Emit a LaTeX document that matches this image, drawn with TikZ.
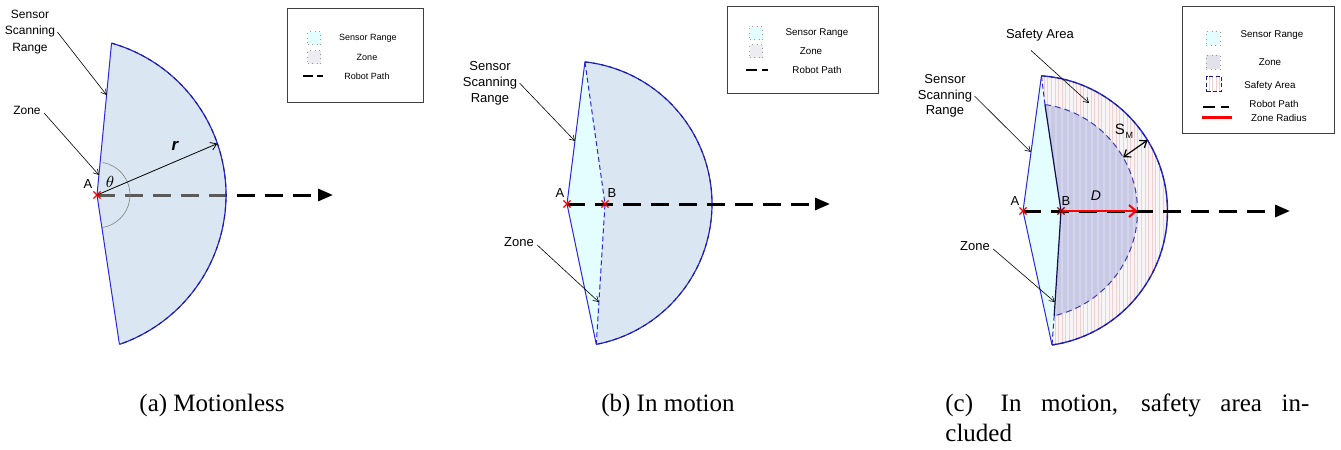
\documentclass[tikz,border=0pt]{standalone}
\usepackage{fontspec}
\setmainfont{Liberation Serif}
\setsansfont{Liberation Sans}
\usetikzlibrary{arrows.meta,patterns.meta,calc,shapes.misc}

\definecolor{lblue}{RGB}{218,231,242}
\definecolor{lcyan}{RGB}{228,253,254}
\definecolor{zonec}{RGB}{200,201,229}
\definecolor{zonest}{RGB}{212,213,236}
\definecolor{edgeb}{RGB}{40,40,215}
\definecolor{navy}{RGB}{25,25,130}
\definecolor{safec}{RGB}{247,245,245}
\definecolor{stripe}{RGB}{242,206,206}
\definecolor{pathgray}{RGB}{90,90,90}
\definecolor{zleg}{RGB}{236,236,242}
\definecolor{zlegc}{RGB}{226,226,234}

\tikzset{
 lbla/.style={font=\sffamily\fontsize{6}{8.3}\selectfont, align=center, inner sep=0pt},
 lbl/.style={font=\sffamily\fontsize{6.5}{8}\selectfont, align=center, inner sep=0pt},
 lblc/.style={font=\sffamily\fontsize{6.5}{7.6}\selectfont, align=center, inner sep=0pt},
 leg/.style={font=\sffamily\fontsize{4.5}{5}\selectfont, inner sep=0pt},
 legb/.style={font=\sffamily\fontsize{4.9}{5.5}\selectfont, inner sep=0pt},
 ann/.style={draw=black, line width=0.3pt, -{Straight Barb[length=2.5pt,width=3pt]}},
 rpath/.style={line width=1.5pt, dash pattern=on 9pt off 5pt, -{Triangle[length=7.5pt,width=6pt]}},
 bedge/.style={draw=edgeb, line width=0.5pt},
 bedgedash/.style={draw=edgeb, line width=0.5pt, dash pattern=on 2.5pt off 1.5pt},
 arcdash/.style={draw=navy, line width=0.45pt, dash pattern=on 2pt off 2pt},
 captxt/.style={font=\fontsize{12.5}{15}\selectfont, inner sep=0pt},
 legbox/.style={draw=black!75, line width=0.5pt},
 sqbox/.style={draw=black!40, line width=0.25pt, dotted, minimum size=6.5pt, inner sep=0pt},
 redx/.style={cross out, draw=red, line width=0.6pt, minimum size=3pt, inner sep=0pt},
 ptlbl/.style={font=\sffamily\fontsize{6.5}{7}\selectfont, inner sep=0pt},
}

\begin{document}
\begin{tikzpicture}[x=0.5pt,y=-0.5pt]
\useasboundingbox (0,0) rectangle (1341,450);

%%%%%%%%%%%%%%%% Panel (a)
\coordinate (Ca) at (68,195);
\coordinate (aA) at (97,195);
\coordinate (atop) at ($(Ca)+(-74:158)$);
\coordinate (abot) at ($(Ca)+(71:158)$);
\coordinate (aend) at (333,195);
\coordinate (ar) at ($(Ca)+(-19:158)$);
\coordinate (asensT) at (106.6,95);
\coordinate (azoneT) at (98.9,175);

\fill[lblue] (aA) -- (atop) arc[start angle=-74,end angle=71,radius=158] -- cycle;
\draw[rpath] (aA) -- (aend);
\begin{scope}
 \clip (aA) -- (atop) arc[start angle=-74,end angle=71,radius=158] -- cycle;
 \draw[rpath, -, draw=pathgray] (aA) -- (aend);
\end{scope}
\draw[bedge] (atop) -- (aA) -- (abot);
\draw[bedge, line width=0.6pt] (atop) arc[start angle=-74,end angle=71,radius=158];
\draw[arcdash] (atop) arc[start angle=-74,end angle=71,radius=158];
\draw[gray, line width=0.3pt] ($(aA)+(-80:33)$) arc[start angle=-80,end angle=82,radius=33];
\draw[line width=0.4pt, -{Straight Barb[length=3pt,width=4pt]}] (aA) -- (ar);
\node[redx] (xaA) at (aA) {};
\node[font=\bfseries\itshape\sffamily\fontsize{8.5}{9}\selectfont, inner sep=0pt] (arl) at (175,146) {r};
\node[font=\fontsize{8}{8}\selectfont, inner sep=0pt] (ath) at (110,182) {$\theta$};
\node[ptlbl] (aAl) at (88,184) {A};

\node[lbla] (asens) at (30,32) {Sensor\\Scanning\\Range};
\draw[ann] ([xshift=1pt]asens.east) -- (asensT);
\node[lbla] (azone) at (27,110) {Zone};
\draw[ann] ([shift={(3,3)}]azone.east) -- (azoneT);

\draw[legbox] (287,8) rectangle (423,102);
\node[sqbox, fill=lcyan] (al1) at (314,38) {};
\node[leg] (al1t) at (368,38) {Sensor Range};
\node[sqbox, fill=zleg] (al2) at (314,57) {};
\node[leg] (al2t) at (367,57) {Zone};
\coordinate (al3a) at (303,76);
\coordinate (al3b) at (323,76);
\draw[line width=1pt, dash pattern=on 5pt off 2pt] (al3a) -- (al3b);
\node[leg] (al3t) at (367,76) {Robot Path};

%%%%%%%%%%%%%%%% Panel (b)
\coordinate (Cb) at (569,204);
\coordinate (bA) at (567,204);
\coordinate (bB) at (605,204);
\coordinate (btop) at ($(Cb)+(-83.6:143)$);
\coordinate (bbot) at ($(Cb)+(79:143)$);
\coordinate (bend) at (830,204);
\coordinate (bsensT) at (574.9,141);
\coordinate (bzoneT) at (598.9,302);

\fill[lcyan] (btop) -- (bA) -- (bbot) -- (bB) -- cycle;
\fill[lblue] (btop) -- (bB) -- (bbot) arc[start angle=79,end angle=-83.6,radius=143] -- cycle;
\draw[bedge] (btop) -- (bA) -- (bbot);
\draw[bedgedash] (btop) -- (bB) -- (bbot);
\draw[bedge, line width=0.6pt] (btop) arc[start angle=-83.6,end angle=79,radius=143];
\draw[arcdash] (btop) arc[start angle=-83.6,end angle=79,radius=143];
\draw[rpath] (bA) -- (bend);
\node[redx] (xbA) at (bA) {};
\node[redx] (xbB) at (bB) {};
\node[ptlbl] (bAl) at (560,193) {A};
\node[ptlbl] (bBl) at (612,193) {B};

\node[lbl] (bsens) at (490,83) {Sensor\\Scanning\\Range};
\draw[ann] ([xshift=1pt]bsens.east) -- (bsensT);
\node[lbl] (bzone) at (519,242) {Zone};
\draw[ann] ([shift={(3,3)}]bzone.east) -- (bzoneT);

\draw[legbox] (727,6) rectangle (878,93);
\node[sqbox, fill=lcyan] (bl1) at (756,33) {};
\node[legb] (bl1t) at (817,33) {Sensor Range};
\node[sqbox, fill=zleg] (bl2) at (756,51) {};
\node[legb] (bl2t) at (811,51) {Zone};
\coordinate (bl3a) at (746,70);
\coordinate (bl3b) at (768,70);
\draw[line width=1pt, dash pattern=on 5.5pt off 2.5pt] (bl3a) -- (bl3b);
\node[legb] (bl3t) at (817,70) {Robot Path};

%%%%%%%%%%%%%%%% Panel (c)
\coordinate (Cc) at (1032,211);
\coordinate (Ci) at (1030,211);
\coordinate (cA) at (1023,211);
\coordinate (cB) at (1061,211);
\coordinate (ctop) at ($(Cc)+(-86:135.5)$);
\coordinate (cbot) at ($(Cc)+(81.5:135.5)$);
\coordinate (zt) at ($(Ci)+(-82:107.5)$);
\coordinate (zb) at ($(Ci)+(77:107.5)$);
\coordinate (cD) at ($(Ci)+(0:107.5)$);
\coordinate (cend) at (1290,211);
\coordinate (smi) at ($(Ci)+(-30:107.5)$);
\coordinate (smo) at ($(Cc)+(-31.5:135.5)$);
\coordinate (csensT) at (1030.8,152);
\coordinate (czoneT) at (1054.8,302);
\coordinate (csafeT) at (1089,103);

\fill[lcyan] (ctop) -- (cA) -- (cbot) -- (cB) -- cycle;
\path[fill=safec] (ctop) arc[start angle=-86,end angle=81.5,radius=135.5] -- (zb) arc[start angle=77,end angle=-82,radius=107.5] -- cycle;
\path[pattern={Lines[angle=90,distance=1.8pt,line width=0.3pt]}, pattern color=stripe] (ctop) arc[start angle=-86,end angle=81.5,radius=135.5] -- (zb) arc[start angle=77,end angle=-82,radius=107.5] -- cycle;
\fill[zonec] (zt) -- (cB) -- (zb) arc[start angle=77,end angle=-82,radius=107.5] -- cycle;
\path[pattern={Lines[angle=90,distance=3pt,line width=0.6pt]}, pattern color=zonest] (zt) -- (cB) -- (zb) arc[start angle=77,end angle=-82,radius=107.5] -- cycle;

\draw[bedge] (ctop) -- (cA) -- (cbot);
\draw[bedgedash] (ctop) -- (zt);
\draw[bedgedash] (zb) -- (cbot);
\draw[navy!60!black, line width=0.6pt] (zt) -- (cB) -- (zb);
\draw[bedge, line width=0.7pt] (ctop) arc[start angle=-86,end angle=81.5,radius=135.5];
\draw[arcdash] (ctop) arc[start angle=-86,end angle=81.5,radius=135.5];
\draw[draw={rgb,255:red,60;green,60;blue,185}, line width=0.5pt, dash pattern=on 3pt off 2pt] (zt) arc[start angle=-82,end angle=77,radius=107.5];

\draw[rpath] (cA) -- (cend);
\draw[red, line width=1pt, -{Straight Barb[length=3.5pt,width=6pt,line width=1pt]}] (cB) -- (cD);
\draw[black, line width=0.6pt, {Straight Barb[length=3pt,width=4.5pt]}-{Straight Barb[length=3pt,width=4.5pt]}] (smi) -- (smo);
\node[redx] (xcA) at (cA) {};
\node[redx, draw=red!60!black] (xcB) at (cB) {};
\node[ptlbl] (cAl) at (1015,201) {A};
\node[ptlbl] (cBl) at (1066,201) {B};
\node[font=\sffamily\itshape\fontsize{7}{7}\selectfont, inner sep=0pt] (cDl) at (1096,196) {D};
\node[font=\sffamily\fontsize{7.5}{8}\selectfont, inner sep=0pt] (csm) at (1124,131) {S\kern0.4pt\raisebox{-1.8pt}{\fontsize{4.5}{5}\selectfont M}};

\node[lblc] (csafe) at (1040,35) {Safety Area};
\draw[ann] ([shift={(-9,9)}]csafe.south) -- (csafeT);
\node[lblc] (csens) at (945,96) {Sensor\\Scanning\\Range};
\draw[ann] ([xshift=1pt]csens.east) -- (csensT);
\node[lblc] (czone) at (975,246) {Zone};
\draw[ann] ([shift={(3,3)}]czone.east) -- (czoneT);

\draw[legbox] (1182,6) rectangle (1334,133);
\node[sqbox, fill=lcyan, minimum size=7pt] (cl1) at (1213,38) {};
\node[legb] (cl1t) at (1272,35) {Sensor Range};
\node[sqbox, fill=zlegc, minimum size=7pt] (cl2) at (1213,62) {};
\node[legb] (cl2t) at (1270,62) {Zone};
\node[draw=navy, line width=0.5pt, dash pattern=on 2pt off 1.2pt, minimum size=7.5pt, inner sep=0pt, pattern={Lines[angle=90,distance=1.6pt,line width=0.35pt]}, pattern color=stripe] (cl3) at (1214,84) {};
\node[legb] (cl3t) at (1270,86) {Safety Area};
\coordinate (cl4a) at (1203,107);
\coordinate (cl4b) at (1229,107);
\draw[line width=1pt, dash pattern=on 6pt off 3pt] (cl4a) -- (cl4b);
\node[legb] (cl4t) at (1274,104) {Robot Path};
\coordinate (cl5a) at (1202,117);
\coordinate (cl5b) at (1232,117);
\draw[red, line width=1.5pt] (cl5a) -- (cl5b);
\node[legb] (cl5t) at (1279,118) {Zone Radius};

%%%%%%%%%%%%%%%% Captions
\node[captxt, anchor=base] (capa) at (212,411) {(a) Motionless};
\node[captxt, anchor=base] (capb) at (668,411) {(b) In motion};
\node[captxt, anchor=base west] (capc1) at (945,411) {\makebox[182pt][s]{(c)\hspace{4pt} In motion, safety area in-}};
\node[captxt, anchor=base west] (capc2) at (945,441) {cluded};
\end{tikzpicture}
\end{document}
